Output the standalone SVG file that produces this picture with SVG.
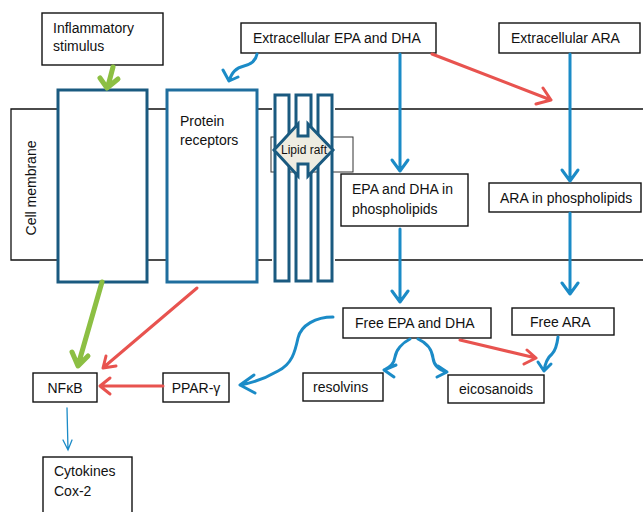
<svg xmlns="http://www.w3.org/2000/svg" width="643" height="512" viewBox="0 0 643 512">
<defs>
<style>
text{font-family:"Liberation Sans",Arial,sans-serif;font-size:14px;fill:#111}
.box{fill:#fff;stroke:#111;stroke-width:1.4}
.mem{fill:none;stroke:#111;stroke-width:1.3}
.dk{fill:#fff;stroke:#1a5a80;stroke-width:3}
.pr{fill:#fff;stroke:#1f6e9e;stroke-width:3}
.bl{fill:none;stroke:#1b8bc7;stroke-width:3;stroke-linecap:round;stroke-linejoin:round}
.rd{fill:none;stroke:#e8534f;stroke-width:3;stroke-linecap:round;stroke-linejoin:round}
.gr{fill:none;stroke:#8cbf43;stroke-width:5;stroke-linecap:round;stroke-linejoin:round}
.thin{fill:none;stroke:#1b8bc7;stroke-width:1.3;stroke-linecap:round}
</style>
</defs>
<rect width="643" height="512" fill="#fff"/>
<g id="membrane">
<path class="mem" d="M643,109 H11 V260 H643"/>
<text transform="translate(36,188) rotate(-90)" text-anchor="middle">Cell membrane</text>
</g>
<g id="receptor1"><rect class="dk" x="58" y="90" width="89" height="192"/></g>
<g id="protein-receptors"><rect class="pr" x="167" y="90" width="90" height="192"/>
<text x="180" y="126">Protein</text><text x="180" y="145">receptors</text></g>
<g id="lipid-raft">
<rect x="272" y="93" width="63" height="190" fill="#fff"/>
<rect x="271" y="137" width="82" height="35" fill="none" stroke="#333" stroke-width="1"/>
<rect class="dk" x="275" y="95" width="14" height="186"/>
<rect class="dk" x="296" y="95" width="15" height="186"/>
<rect class="dk" x="318" y="95" width="14" height="186"/>
<path d="M274,150 L298,124 V136 H308 V124 L333,150 L308,176 V164 H298 V176 Z" fill="#eeece1" stroke="#1a5a80" stroke-width="3" stroke-linejoin="miter"/>
<text x="304" y="154" text-anchor="middle" style="font-size:12px">Lipid raft</text>
</g>
<g id="inflammatory"><rect class="box" x="42" y="13" width="121" height="52"/>
<text x="53" y="33">Inflammatory</text><text x="53" y="51">stimulus</text></g>
<g id="ext-epa"><rect class="box" x="241" y="23" width="195" height="30"/>
<text x="253" y="43">Extracellular EPA and DHA</text></g>
<g id="ext-ara"><rect class="box" x="499" y="23" width="141" height="30"/>
<text x="511" y="43">Extracellular ARA</text></g>
<g id="epa-phospho"><rect class="box" x="341" y="174" width="127" height="52"/>
<text x="352" y="194">EPA and DHA in</text><text x="352" y="214">phospholipids</text></g>
<g id="ara-phospho"><rect class="box" x="489" y="183" width="152" height="29"/>
<text x="500" y="203">ARA in phospholipids</text></g>
<g id="free-epa"><rect class="box" x="343" y="308" width="148" height="30"/>
<text x="355" y="328">Free EPA and DHA</text></g>
<g id="free-ara"><rect class="box" x="512" y="308" width="102" height="27"/>
<text x="530" y="327">Free ARA</text></g>
<g id="resolvins"><rect class="box" x="303" y="373" width="80" height="28"/>
<text x="313" y="392">resolvins</text></g>
<g id="eicosanoids"><rect class="box" x="448" y="375" width="96" height="28"/>
<text x="459" y="394">eicosanoids</text></g>
<g id="ppar"><rect class="box" x="163" y="373" width="66" height="29"/>
<text x="196" y="393" text-anchor="middle">PPAR-γ</text></g>
<g id="nfkb"><rect class="box" x="33" y="373" width="64" height="29"/>
<text x="65" y="393" text-anchor="middle">NFκB</text></g>
<g id="cytokines"><rect class="box" x="43" y="457" width="89" height="60"/>
<text x="54" y="476">Cytokines</text><text x="54" y="496">Cox-2</text></g>
<g id="connectors">
<path class="gr" d="M113,67 L108,86 M100,78 L107,88 L118,79"/>
<path class="bl" d="M257,54 C256,60 252,64 244,66 C236,68 232,72 229,81 M223,70 L229,81 L238,77"/>
<path class="bl" d="M400,54 V171 M392,160 L400,171 L408,160"/>
<path class="bl" d="M400,229 V302 M392,291 L400,302 L408,291"/>
<path class="bl" d="M570,54 V181 M562,170 L570,181 L578,170"/>
<path class="bl" d="M570,213 V294 M562,283 L570,294 L578,283"/>
<path class="rd" d="M432,54 L551,100 M536,104 L551,100 L543,88"/>
<path class="rd" d="M460,340 L536,358 M524,364 L536,358 L527,350"/>
<path class="bl" d="M410,339 C402,343 396,350 395,357 C394,364 390,367 384,370 M396,365 L384,370 L394,377"/>
<path class="bl" d="M418,339 C427,343 432,350 433,358 C434,366 439,370 447,372 M437,377 L447,372 L438,366"/>
<path class="bl" d="M558,337 C557,345 556,350 552,354 C547,358 545,364 544,371 M538,362 L544,371 L551,364"/>
<path class="bl" d="M333,317 C316,317 301,325 298,338 C295,352 292,364 278,371 C266,378 252,383 240,385 M254,375 L240,385 L255,393"/>
<path class="rd" d="M197,288 L104,367 M106,356 L103,368 L116,366"/>
<path class="gr" d="M102,282 L79,362 M72,352 L78,366 L88,356"/>
<path class="rd" d="M163,386 L100,386 M110,378 L100,386 L110,394"/>
<path class="thin" d="M67,408 L68,450 M63,440 L68,450 L72,440"/>
</g>
</svg>
